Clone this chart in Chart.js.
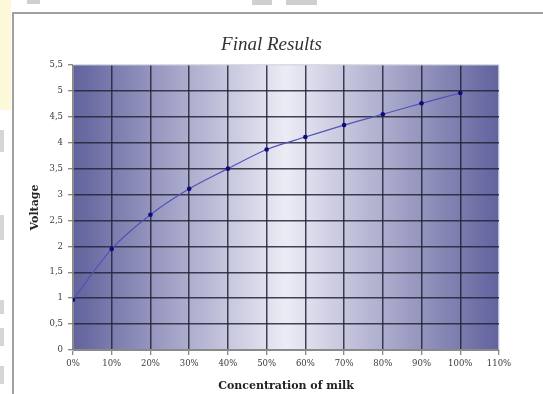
<!DOCTYPE html>
<html>
<head>
<meta charset="utf-8">
<script src="https://cdn.jsdelivr.net/npm/chart.js@4/dist/chart.umd.min.js"></script>
<style>
  html, body { margin: 0; padding: 0; background: #ffffff; }
  #wrap { position: relative; width: 543px; height: 394px; overflow: hidden; }
  .deco { position: absolute; }
  #frame { left: 12px; top: 12px; width: 560px; height: 400px;
           border-left: 2px solid #a0a0a0; border-top: 2px solid #a0a0a0; background: #ffffff; }
  canvas { position: absolute; left: 0; top: 0; }
</style>
</head>
<body>
<div id="wrap">
  <div class="deco" style="left:0;top:0;width:11px;height:110px;background:#fdf9d8;"></div>
  <div class="deco" style="left:27px;top:0;width:13px;height:4px;background:#cfcfcf;"></div>
  <div class="deco" style="left:252px;top:0;width:20px;height:5px;background:#cfcfcf;"></div>
  <div class="deco" style="left:286px;top:0;width:31px;height:5px;background:#cfcfcf;"></div>
  <div class="deco" style="left:0;top:130px;width:4px;height:22px;background:#d6d6d6;"></div>
  <div class="deco" style="left:0;top:215px;width:4px;height:25px;background:#d6d6d6;"></div>
  <div class="deco" style="left:0;top:300px;width:4px;height:14px;background:#d6d6d6;"></div>
  <div class="deco" style="left:0;top:328px;width:4px;height:18px;background:#d6d6d6;"></div>
  <div class="deco" style="left:0;top:366px;width:4px;height:18px;background:#d6d6d6;"></div>
  <div class="deco" id="frame"></div>
  <canvas id="chart" width="543" height="394"></canvas>
</div>
<script>
// Milk concentration (%) against measured voltage
const concentration = [0, 10, 20, 30, 40, 50, 60, 70, 80, 90, 100];
const voltage = [0.97, 1.95, 2.61, 3.11, 3.5, 3.87, 4.11, 4.34, 4.55, 4.76, 4.96];

const chartTitle = 'Final Results';
const xTitle = 'Concentration of milk';
const yTitle = 'Voltage';

const points = concentration.map((c, i) => ({ x: c, y: voltage[i] }));

// Horizontal shaded background behind the plot area
const plotShade = {
  id: 'plotShade',
  beforeDraw(chart) {
    const { ctx, chartArea: a } = chart;
    const g = ctx.createLinearGradient(a.left, 0, a.right, 0);
    g.addColorStop(0, '#62629e');
    g.addColorStop(0.5, '#ececf6');
    g.addColorStop(1, '#62629e');
    ctx.save();
    ctx.fillStyle = g;
    ctx.fillRect(a.left, a.top, a.right - a.left, a.bottom - a.top);
    ctx.restore();
  }
};

const gridColor = (edgeValue) => (ctx) => {
  if (!ctx.tick) return 'rgba(35,35,55,0.85)';
  if (ctx.tick.value === 0) return '#8a8a8a';
  if (ctx.tick.value === edgeValue) return 'rgba(210,210,220,0.8)';
  return 'rgba(35,35,55,0.85)';
};

new Chart(document.getElementById('chart'), {
  type: 'line',
  data: {
    datasets: [{
      data: points,
      borderColor: '#5252b8',
      borderWidth: 1.2,
      pointRadius: 2.3,
      pointBackgroundColor: '#0c0c80',
      pointBorderColor: '#0c0c80',
      pointBorderWidth: 0,
      tension: 0.3,
      fill: false
    }]
  },
  options: {
    responsive: false,
    animation: false,
    layout: { padding: { left: 0, right: 0, top: 0, bottom: 0 } },
    plugins: {
      legend: { display: false },
      tooltip: { enabled: false },
      title: {
        display: true,
        text: chartTitle,
        color: '#333333',
        font: { family: 'Liberation Serif', style: 'italic', size: 19, weight: 'normal' },
        padding: { top: 33.6, bottom: 8.6 }
      }
    },
    scales: {
      x: {
        type: 'linear',
        min: 0,
        max: 110,
        ticks: {
          stepSize: 10,
          color: '#3a3a3a',
          font: { family: 'DejaVu Serif', size: 8.5 },
          padding: 4,
          maxRotation: 0,
          callback: (v) => v + '%'
        },
        grid: {
          color: gridColor(110),
          lineWidth: 1.5,
          tickLength: 5,
          tickColor: '#666666',
          tickWidth: 1
        },
        border: { display: true, color: '#8a8a8a', width: 1 },
        title: {
          display: true,
          text: xTitle,
          color: '#222222',
          font: { family: 'DejaVu Serif', weight: 'bold', size: 11 },
          padding: { top: 0, bottom: 1.4 }
        },
        afterFit(scale) { scale.height = 44; }
      },
      y: {
        min: 0,
        max: 5.5,
        ticks: {
          stepSize: 0.5,
          color: '#3a3a3a',
          font: { family: 'DejaVu Serif', size: 8.5 },
          padding: 5,
          callback: (v) => String(v).replace('.', ',')
        },
        grid: {
          color: gridColor(5.5),
          lineWidth: 1.5,
          tickLength: 5,
          tickColor: '#666666',
          tickWidth: 1
        },
        border: { display: true, color: '#8a8a8a', width: 1 },
        title: {
          display: true,
          text: yTitle,
          color: '#222222',
          font: { family: 'DejaVu Serif', weight: 'bold', size: 11 },
          padding: { top: 29, bottom: 0 }
        },
        afterFit(scale) { scale.width = 73; }
      },
      spacer: {
        position: 'right',
        display: true,
        ticks: { display: false },
        grid: { display: false, drawTicks: false },
        border: { display: false },
        afterFit(scale) { scale.width = 44; }
      }
    }
  },
  plugins: [plotShade]
});
</script>
</body>
</html>
